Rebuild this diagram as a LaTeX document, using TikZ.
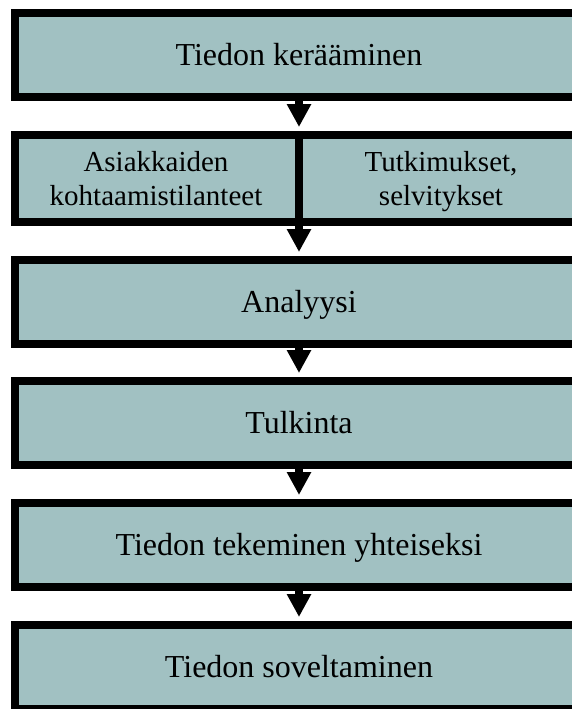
\documentclass[tikz,border=0pt]{standalone}
\usepackage{fontspec}
\setmainfont{Liberation Serif}
\usetikzlibrary{arrows.meta}
\definecolor{boxfill}{RGB}{161,193,194}
\begin{document}
\begin{tikzpicture}[x=1pt,y=-1pt,
  stage/.style={draw=black, line width=8pt, fill=boxfill,
    minimum width=569pt, minimum height=84pt, inner sep=0pt,
    font=\fontsize{32}{38}\selectfont, text height=21pt, text depth=0pt},
  cell/.style={align=center, inner sep=0pt, font=\fontsize{29}{34}\selectfont,
    text depth=0pt},
  flow/.style={line width=8pt, line cap=butt,
    -{Triangle[length=23pt,width=23pt]}, shorten >=4pt}]
\useasboundingbox (0,0) rectangle (572,709);

% process stages
\node[stage] (b1) at (299,55) {Tiedon kerääminen};
\node[stage, minimum height=87pt] (b2) at (299,178.5) {};
\node[stage] (b3) at (299,302) {Analyysi};
\node[stage] (b4) at (299,423) {Tulkinta};
\node[stage] (b5) at (299,545) {Tiedon tekeminen yhteiseksi};
\node[stage] (b6) at (299,667) {Tiedon soveltaminen};

% two sources of information side by side
\draw[line width=8pt] (b2.north) -- (b2.south);
\node[cell] (src1) at (156,178.5) {Asiakkaiden\\kohtaamistilanteet};
\node[cell] (src2) at (441,178.5) {Tutkimukset,\\selvitykset};

% flow between stages
\draw[flow] (b1.south) -- (b2.north);
\draw[flow] (b2.south) -- (b3.north);
\draw[flow] (b3.south) -- (b4.north);
\draw[flow] (b4.south) -- (b5.north);
\draw[flow] (b5.south) -- (b6.north);
\end{tikzpicture}
\end{document}
